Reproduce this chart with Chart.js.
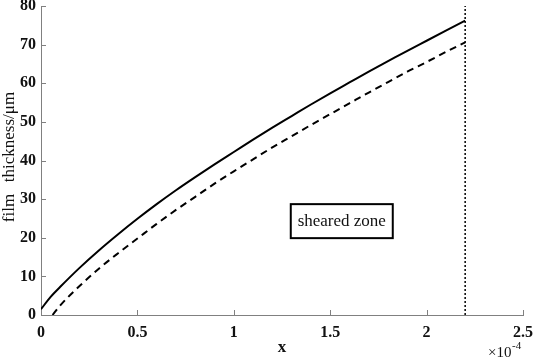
<!DOCTYPE html>
<html>
<head>
<meta charset="utf-8">
<script src="https://cdn.jsdelivr.net/npm/chart.js@4/dist/chart.umd.min.js"></script>
<style>
  html, body { margin: 0; padding: 0; background: #fff; }
  #chart { display: block; }
</style>
</head>
<body>
<canvas id="chart" width="533" height="360"></canvas>
<script>
// x in units of 1e-4
const solidX = [0, 0.05, 0.1, 0.2, 0.3, 0.4, 0.5, 0.6, 0.7, 0.8, 0.9, 1.0, 1.1, 1.2, 1.3, 1.4, 1.5, 1.6, 1.7, 1.8, 1.9, 2.0, 2.1, 2.2];
const solidY = [1.5, 4.7, 7.3, 12.2, 16.7, 20.9, 24.9, 28.7, 32.3, 35.7, 39.0, 42.2, 45.4, 48.5, 51.5, 54.5, 57.4, 60.2, 63.0, 65.7, 68.4, 71.0, 73.6, 76.2];

const dashedX = [0.06, 0.1, 0.2, 0.3, 0.4, 0.5, 0.6, 0.7, 0.8, 0.9, 1.0, 1.1, 1.2, 1.3, 1.4, 1.5, 1.6, 1.7, 1.8, 1.9, 2.0, 2.1, 2.2];
const dashedY = [0, 2.5, 7.5, 12.0, 16.0, 19.8, 23.6, 27.2, 30.6, 34.0, 37.2, 40.3, 43.4, 46.3, 49.2, 52.0, 54.8, 57.6, 60.3, 63.0, 65.5, 68.1, 70.6];

const boundaryX = [2.2, 2.2];
const boundaryY = [0, 80];

const xTicks = [0, 0.5, 1, 1.5, 2, 2.5];
const yTicks = [0, 10, 20, 30, 40, 50, 60, 70, 80];

const toPoints = (xs, ys) => xs.map((x, i) => ({ x: x, y: ys[i] }));

const serif = "'Liberation Serif', 'Times New Roman', serif";
const axisColor = "#808080";

// inward ticks + titles + annotation box
const extrasPlugin = {
  id: "extras",
  afterDraw(chart) {
    const ctx = chart.ctx;
    const xs = chart.scales.x;
    const ys = chart.scales.y;
    const area = chart.chartArea;
    ctx.save();
    ctx.strokeStyle = axisColor;
    ctx.lineWidth = 1;
    ctx.beginPath();
    xTicks.forEach((t) => {
      const px = Math.round(xs.getPixelForValue(t)) + 0.5;
      ctx.moveTo(px, area.bottom);
      ctx.lineTo(px, area.bottom - 5);
    });
    yTicks.forEach((t) => {
      const py = Math.round(ys.getPixelForValue(t)) + 0.5;
      ctx.moveTo(area.left, py);
      ctx.lineTo(area.left + 5, py);
    });
    ctx.stroke();

    ctx.fillStyle = "#111";
    // y title
    ctx.save();
    ctx.translate(10, 0);
    ctx.rotate(-Math.PI / 2);
    ctx.font = "17px " + serif;
    ctx.textAlign = "center";
    ctx.textBaseline = "middle";
    ctx.fillText("thickness/\u03bcm", -137, 0);
    ctx.fillText("film", -208, 0);
    ctx.restore();

    // x title
    ctx.font = "bold 17px " + serif;
    ctx.textAlign = "center";
    ctx.textBaseline = "middle";
    ctx.fillText("x", 282, 348);

    // exponent
    ctx.font = "15px " + serif;
    ctx.textAlign = "left";
    ctx.fillText("\u00d710", 488, 353);
    ctx.font = "11px " + serif;
    ctx.fillText("-4", 512, 346);

    // sheared zone box
    const cx = xs.getPixelForValue(1.56);
    const cy = ys.getPixelForValue(24.3);
    ctx.strokeStyle = "#000";
    ctx.lineWidth = 2;
    ctx.fillStyle = "#fff";
    ctx.fillRect(cx - 51, cy - 17, 102, 34);
    ctx.strokeRect(cx - 51, cy - 17, 102, 34);
    ctx.fillStyle = "#111";
    ctx.font = "17px " + serif;
    ctx.textAlign = "center";
    ctx.fillText("sheared zone", cx, cy);
    ctx.restore();
  },
};

new Chart(document.getElementById("chart").getContext("2d"), {
  type: "line",
  data: {
    datasets: [
      {
        data: toPoints(solidX, solidY),
        borderColor: "#000",
        borderWidth: 2,
        pointRadius: 0,
        cubicInterpolationMode: "monotone",
        fill: false,
      },
      {
        data: toPoints(dashedX, dashedY),
        borderColor: "#000",
        borderWidth: 2,
        borderDash: [7, 5],
        pointRadius: 0,
        cubicInterpolationMode: "monotone",
        fill: false,
      },
      {
        data: toPoints(boundaryX, boundaryY),
        borderColor: "#000",
        borderWidth: 1.5,
        borderDash: [2, 2],
        pointRadius: 0,
        fill: false,
      },
    ],
  },
  options: {
    responsive: false,
    animation: false,
    layout: { padding: 0 },
    plugins: {
      legend: { display: false },
      tooltip: { enabled: false },
    },
    scales: {
      x: {
        type: "linear",
        min: 0,
        max: 2.5,
        afterBuildTicks: (scale) => {
          scale.ticks = xTicks.map((v) => ({ value: v }));
        },
        afterFit: (scale) => {
          scale.height = 45;
          scale.paddingLeft = 0;
          scale.paddingRight = 10;
        },
        border: { display: true, color: axisColor, width: 1 },
        grid: { display: false, drawTicks: false },
        ticks: {
          color: "#111",
          font: { family: serif, size: 16, weight: "bold" },
          padding: 8,
          maxRotation: 0,
          callback: (v) => String(v),
        },
      },
      y: {
        min: 0,
        max: 80,
        afterBuildTicks: (scale) => {
          scale.ticks = yTicks.map((v) => ({ value: v }));
        },
        afterFit: (scale) => {
          scale.width = 41;
          scale.paddingTop = 6;
          scale.paddingBottom = 0;
        },
        border: { display: true, color: axisColor, width: 1 },
        grid: { display: false, drawTicks: false },
        ticks: {
          color: "#111",
          font: { family: serif, size: 16, weight: "bold" },
          padding: 5,
        },
      },
    },
  },
  plugins: [extrasPlugin],
});
</script>
</body>
</html>
